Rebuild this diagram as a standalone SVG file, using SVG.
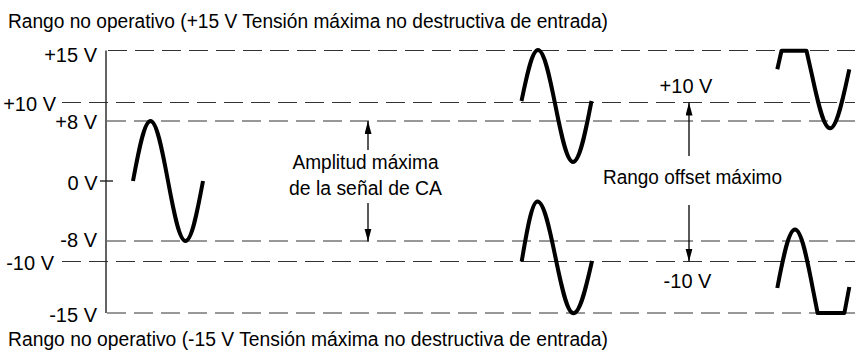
<svg xmlns="http://www.w3.org/2000/svg" width="855" height="354" viewBox="0 0 855 354">
<style>
text{font-family:"Liberation Sans",Arial,sans-serif;font-size:20px;fill:#000}
.lbl{text-anchor:end}
.mid{text-anchor:middle}
.grid{stroke:#333;stroke-width:1.2;stroke-dasharray:19 8;fill:none}
.axis{stroke:#222;stroke-width:1.4;fill:none}
.wave{stroke:#000;stroke-width:4;fill:none;stroke-linejoin:round}
.arr{stroke:#000;stroke-width:1.3;fill:none;marker-end:url(#ah)}
</style>
<defs>
<marker id="ah" markerUnits="userSpaceOnUse" markerWidth="14" markerHeight="8" refX="13" refY="3.5" orient="auto">
<path d="M0,0 L13,3.5 L0,7 z" fill="#000"/>
</marker>
</defs>

<g id="titles">
<text x="8" y="28" textLength="600" lengthAdjust="spacingAndGlyphs">Rango no operativo (+15 V Tensión máxima no destructiva de entrada)</text>
<text x="8" y="346" textLength="600" lengthAdjust="spacingAndGlyphs">Rango no operativo (-15 V Tensión máxima no destructiva de entrada)</text>
</g>

<g id="grid">
<line class="grid" x1="108" y1="50.5" x2="855" y2="50.5"/>
<line class="grid" x1="62" y1="102.5" x2="855" y2="102.5"/>
<line class="grid" x1="107" y1="121" x2="855" y2="121"/>
<line class="grid" x1="107" y1="241" x2="855" y2="241"/>
<line class="grid" x1="62" y1="261.5" x2="855" y2="261.5"/>
<line class="grid" x1="107" y1="313" x2="855" y2="313"/>
</g>

<g id="axis">
<path class="axis" d="M106,50.5 V313"/>
<path class="axis" d="M100,181 H113"/>
</g>

<g id="axis-labels">
<text class="lbl" x="97" y="62">+15 V</text>
<text class="lbl" x="56" y="111">+10 V</text>
<text class="lbl" x="97" y="129">+8 V</text>
<text class="lbl" x="97.5" y="189.5">0 V</text>
<text class="lbl" x="97" y="247">-8 V</text>
<text class="lbl" x="54" y="270">-10 V</text>
<text class="lbl" x="97" y="322">-15 V</text>
</g>

<g id="wave-ac">
<path class="wave" d="M133,181 C138.7,150.3 144.2,121 150.5,121 C156.8,121 162.3,150.3 168,181 C173.7,211.7 179.2,241 185.5,241 C191.8,241 197.3,211.7 203,181"/>
</g>
<g id="wave-offset-pos">
<path class="wave" d="M521.5,101 C526.9,74.9 532,50 538,50 C544.3,50 549.8,77.4 555.5,106 C561.2,134.6 566.7,162 573,162 C579.7,162 585.5,132.2 591.5,101"/>
</g>
<g id="wave-offset-neg">
<path class="wave" d="M521.7,261.5 C526.8,230.8 531.8,201.5 537.5,201.5 C544,201.5 549.65,228.9 555.5,257.5 C561.35,286 567,313.3 573.5,313.3 C580.2,313.3 586,287.7 592,261"/>
</g>
<g id="wave-clip-top">
<path class="wave" d="M777.3,69.3 L781.5,50.7 L806.5,50.7 L812,75.3 C817.85,102.4 823.5,128.3 830,128.3 C836.5,128.3 842.15,102.4 848,75.3 L849.3,69.3"/>
</g>
<g id="wave-clip-bottom">
<path class="wave" d="M777.3,288 C782.85,258.9 788.5,229.6 795,229.6 C801.5,229.6 807.15,258.9 813,289.6 L817.6,313 L844.4,313 L849.3,287"/>
</g>

<g id="label-amplitude">
<text x="292.5" y="169" textLength="146" lengthAdjust="spacingAndGlyphs">Amplitud máxima</text>
<text x="289" y="195" textLength="153" lengthAdjust="spacingAndGlyphs">de la señal de CA</text>
</g>
<g id="label-offset">
<text x="603" y="184" textLength="179" lengthAdjust="spacingAndGlyphs">Rango offset máximo</text>
<text class="mid" x="686" y="93">+10 V</text>
<text class="mid" x="687.5" y="287.5">-10 V</text>
</g>

<g id="connectors">
<line class="arr" x1="368" y1="150" x2="368" y2="121"/>
<line class="arr" x1="368" y1="203" x2="368" y2="241.5"/>
<line class="arr" x1="689" y1="156" x2="689" y2="102.5"/>
<line class="arr" x1="689" y1="205" x2="689" y2="261.5"/>
</g>
</svg>
